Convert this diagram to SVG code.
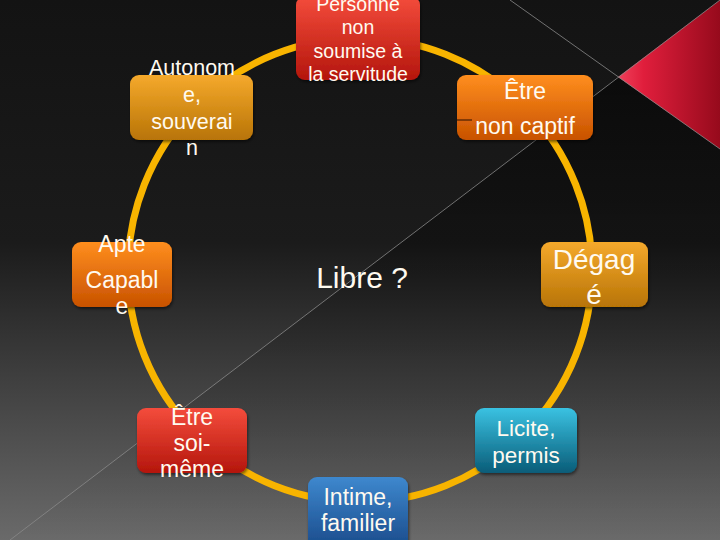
<svg xmlns="http://www.w3.org/2000/svg" width="720" height="540" viewBox="0 0 720 540">
<defs>
<linearGradient id="bg" x1="0" y1="0" x2="0" y2="1">
<stop offset="0" stop-color="#131313"/>
<stop offset="0.45" stop-color="#1b1b1b"/>
<stop offset="1" stop-color="#6a6a6a"/>
</linearGradient>
<linearGradient id="shade" x1="0" y1="77" x2="0" y2="540" gradientUnits="userSpaceOnUse">
<stop offset="0" stop-color="#000" stop-opacity="0.5"/>
<stop offset="0.6" stop-color="#000" stop-opacity="0.15"/>
<stop offset="1" stop-color="#000" stop-opacity="0"/>
</linearGradient>
<linearGradient id="tri" x1="618" y1="77" x2="720" y2="77" gradientUnits="userSpaceOnUse">
<stop offset="0" stop-color="#f0405a"/>
<stop offset="0.25" stop-color="#e01e3c"/>
<stop offset="1" stop-color="#960a1c"/>
</linearGradient>
<linearGradient id="gold" x1="0" y1="0" x2="0" y2="1">
<stop offset="0" stop-color="#f5a92c"/>
<stop offset="1" stop-color="#b87406"/>
</linearGradient>
<linearGradient id="orange" x1="0" y1="0" x2="0" y2="1">
<stop offset="0" stop-color="#ff8e1e"/>
<stop offset="1" stop-color="#c85200"/>
</linearGradient>
<linearGradient id="red" x1="0" y1="0" x2="0" y2="1">
<stop offset="0" stop-color="#f44c3c"/>
<stop offset="1" stop-color="#b4160c"/>
</linearGradient>
<linearGradient id="teal" x1="0" y1="0" x2="0" y2="1">
<stop offset="0" stop-color="#3ac2e2"/>
<stop offset="1" stop-color="#0a5c78"/>
</linearGradient>
<linearGradient id="blue" x1="0" y1="0" x2="0" y2="1">
<stop offset="0" stop-color="#3e88ce"/>
<stop offset="1" stop-color="#1a4a8a"/>
</linearGradient>
<filter id="sh" x="-10%" y="-10%" width="130%" height="140%">
<feDropShadow dx="1" dy="2" stdDeviation="1.5" flood-color="#000" flood-opacity="0.5"/>
</filter>
</defs>
<style>
.box{filter:url(#sh);}
.t{font-family:"Liberation Sans",Arial,sans-serif;fill:#fffaf0;text-anchor:middle;}
.ln{stroke:#8a8a8a;stroke-width:1;fill:none;opacity:0.8;}
</style>
<rect x="0" y="0" width="720" height="540" fill="url(#bg)"/>
<polygon points="618,77 10,540 720,540 720,149" fill="url(#shade)"/>
<polygon points="618,77 720,0 720,149" fill="url(#tri)"/>
<line class="ln" x1="510" y1="0" x2="720" y2="149"/>
<line class="ln" x1="10" y1="540" x2="720" y2="0"/>
<g id="connectors">
<circle cx="360" cy="270" r="232" fill="none" stroke="#f8b400" stroke-width="7"/>
</g>
<g id="n-autonome">
<rect class="box" x="130" y="75" width="123" height="65" rx="9" fill="url(#gold)"/>
<text class="t" x="192" y="75" font-size="21.5">Autonom</text>
<text class="t" x="192" y="102" font-size="21.5">e,</text>
<text class="t" x="192" y="129" font-size="21.5">souverai</text>
<text class="t" x="192" y="155" font-size="21.5">n</text>
</g>
<g id="n-personne">
<rect class="box" x="296" y="-4" width="124" height="84" rx="9" fill="url(#red)"/>
<text class="t" x="358" y="11" font-size="19.5">Personne</text>
<text class="t" x="358" y="34" font-size="19.5">non</text>
<text class="t" x="358" y="58" font-size="19.5">soumise à</text>
<text class="t" x="358" y="81" font-size="19.5">la servitude</text>
</g>
<g id="n-captif">
<rect class="box" x="457" y="75" width="136" height="65" rx="9" fill="url(#orange)"/>
<line x1="457" y1="120" x2="472" y2="120" stroke="#2a1000" stroke-width="1"/>
<text class="t" x="525" y="99" font-size="23">Être</text>
<text class="t" x="525" y="134" font-size="23">non captif</text>
</g>
<g id="n-apte">
<rect class="box" x="72" y="242" width="100" height="65" rx="9" fill="url(#orange)"/>
<text class="t" x="122" y="252" font-size="23">Apte</text>
<text class="t" x="122" y="288" font-size="23">Capabl</text>
<text class="t" x="122" y="314" font-size="23">e</text>
</g>
<g id="n-libre">
<text class="t" x="362" y="288" font-size="30" fill="#ffffff">Libre ?</text>
</g>
<g id="n-degage">
<rect class="box" x="541" y="242" width="107" height="65" rx="9" fill="url(#gold)"/>
<text class="t" x="594" y="269" font-size="28">Dégag</text>
<text class="t" x="594" y="304" font-size="28">é</text>
</g>
<g id="n-soi">
<rect class="box" x="137" y="408" width="110" height="65" rx="9" fill="url(#red)"/>
<text class="t" x="192" y="425" font-size="23">Être</text>
<text class="t" x="192" y="451" font-size="23">soi-</text>
<text class="t" x="192" y="477" font-size="23">même</text>
</g>
<g id="n-licite">
<rect class="box" x="475" y="408" width="102" height="65" rx="9" fill="url(#teal)"/>
<text class="t" x="526" y="436" font-size="22.5">Licite,</text>
<text class="t" x="526" y="463" font-size="22.5">permis</text>
</g>
<g id="n-intime">
<rect class="box" x="308" y="477" width="100" height="72" rx="9" fill="url(#blue)"/>
<text class="t" x="358" y="505" font-size="23">Intime,</text>
<text class="t" x="358" y="531" font-size="23">familier</text>
</g>
</svg>
